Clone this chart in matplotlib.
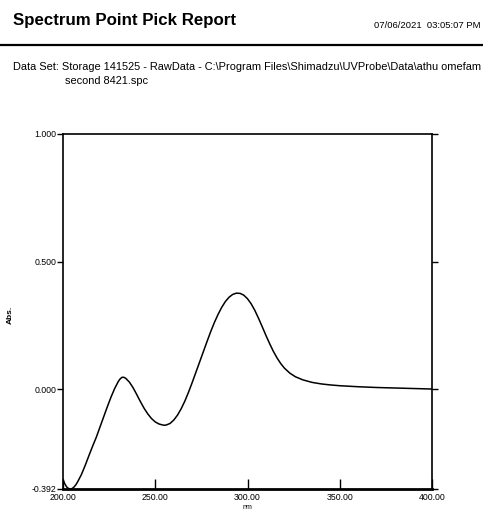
import matplotlib
matplotlib.use("Agg")
import matplotlib.pyplot as plt

plt.rcParams['font.family'] = ['Liberation Sans', 'DejaVu Sans']

wavelength = [200, 201, 202, 203, 204, 205, 206, 207, 208, 210, 212, 214, 216, 218,
              220, 222, 224, 226, 228, 230, 231, 232, 233, 234, 236, 238, 240, 242,
              244, 246, 248, 250, 252, 254, 255, 256, 258, 260, 262, 264, 266, 268,
              270, 272, 274, 276, 278, 280, 282, 284, 286, 288, 290, 292, 294, 296,
              298, 300, 302, 304, 306, 308, 310, 312, 314, 316, 318, 320, 323, 326,
              330, 335, 340, 345, 350, 360, 370, 380, 390, 400]
absorbance = [-0.355, -0.372, -0.384, -0.390, -0.392, -0.390, -0.384, -0.375, -0.363,
              -0.335, -0.300, -0.262, -0.225, -0.190, -0.150, -0.110, -0.070, -0.032,
              0.002, 0.030, 0.040, 0.046, 0.046, 0.042, 0.027, 0.005, -0.022, -0.050,
              -0.076, -0.098, -0.116, -0.129, -0.137, -0.141, -0.142, -0.141, -0.135,
              -0.122, -0.103, -0.078, -0.048, -0.013, 0.025, 0.065, 0.105, 0.145,
              0.185, 0.224, 0.260, 0.292, 0.320, 0.343, 0.360, 0.371, 0.376, 0.375,
              0.368, 0.354, 0.334, 0.308, 0.277, 0.244, 0.210, 0.178, 0.148, 0.122,
              0.100, 0.082, 0.062, 0.048, 0.036, 0.026, 0.020, 0.016, 0.013, 0.009,
              0.006, 0.004, 0.002, 0.0]

x_ticks = [200, 250, 300, 350, 400]
x_labels = ["200.00", "250.00", "300.00", "350.00", "400.00"]
y_ticks = [1.0, 0.5, 0.0, -0.392]
y_labels = ["1.000", "0.500", "0.000", "-0.392"]

title = "Spectrum Point Pick Report"
stamp = "07/06/2021  03:05:07 PM"
dataset1 = "Data Set: Storage 141525 - RawData - C:\\Program Files\\Shimadzu\\UVProbe\\Data\\athu omefam"
dataset2 = "second 8421.spc"

W, H = 483, 514
fig = plt.figure(figsize=(W / 100, H / 100), dpi=100)

def fx(px):
    return px / W

def fy(py):
    return 1 - py / H

fig.text(fx(13), fy(20), title, fontsize=12.2, fontweight='bold', va='center', ha='left')
fig.text(fx(481), fy(25), stamp, fontsize=6.8, va='center', ha='right')
fig.add_artist(plt.Line2D([0, 1], [fy(45), fy(45)], color='black', lw=1.6, transform=fig.transFigure))
fig.text(fx(13), fy(67), dataset1, fontsize=7.9, va='center', ha='left')
fig.text(fx(65), fy(81), dataset2, fontsize=7.9, va='center', ha='left')

ax = fig.add_axes([fx(63), fy(489), (432 - 63) / W, (489 - 134) / H])
ax.plot(wavelength, absorbance, color='black', lw=1.1)
ax.set_xlim(200, 400)
ax.set_ylim(-0.392, 1.0)
ax.set_xticks(x_ticks)
ax.set_xticklabels(x_labels, fontsize=6.3)
ax.set_yticks(y_ticks)
ax.set_yticklabels(y_labels, fontsize=6.3)
ax.tick_params(axis='x', direction='in', length=7, width=1, pad=3)
ax.tick_params(axis='y', direction='out', length=4, width=1, pad=1, right=True)
for s in ax.spines.values():
    s.set_linewidth(1.2)
ax.spines['bottom'].set_linewidth(2)
ax.set_xlabel("nm", fontsize=5, labelpad=1)
ax.set_ylabel("Abs.", fontsize=6, fontweight='bold')
ax.yaxis.set_label_coords(fx(14) / ((432 - 63) / W) - fx(63) / ((432 - 63) / W), 0.49)

fig.savefig("out.png", dpi=100)
